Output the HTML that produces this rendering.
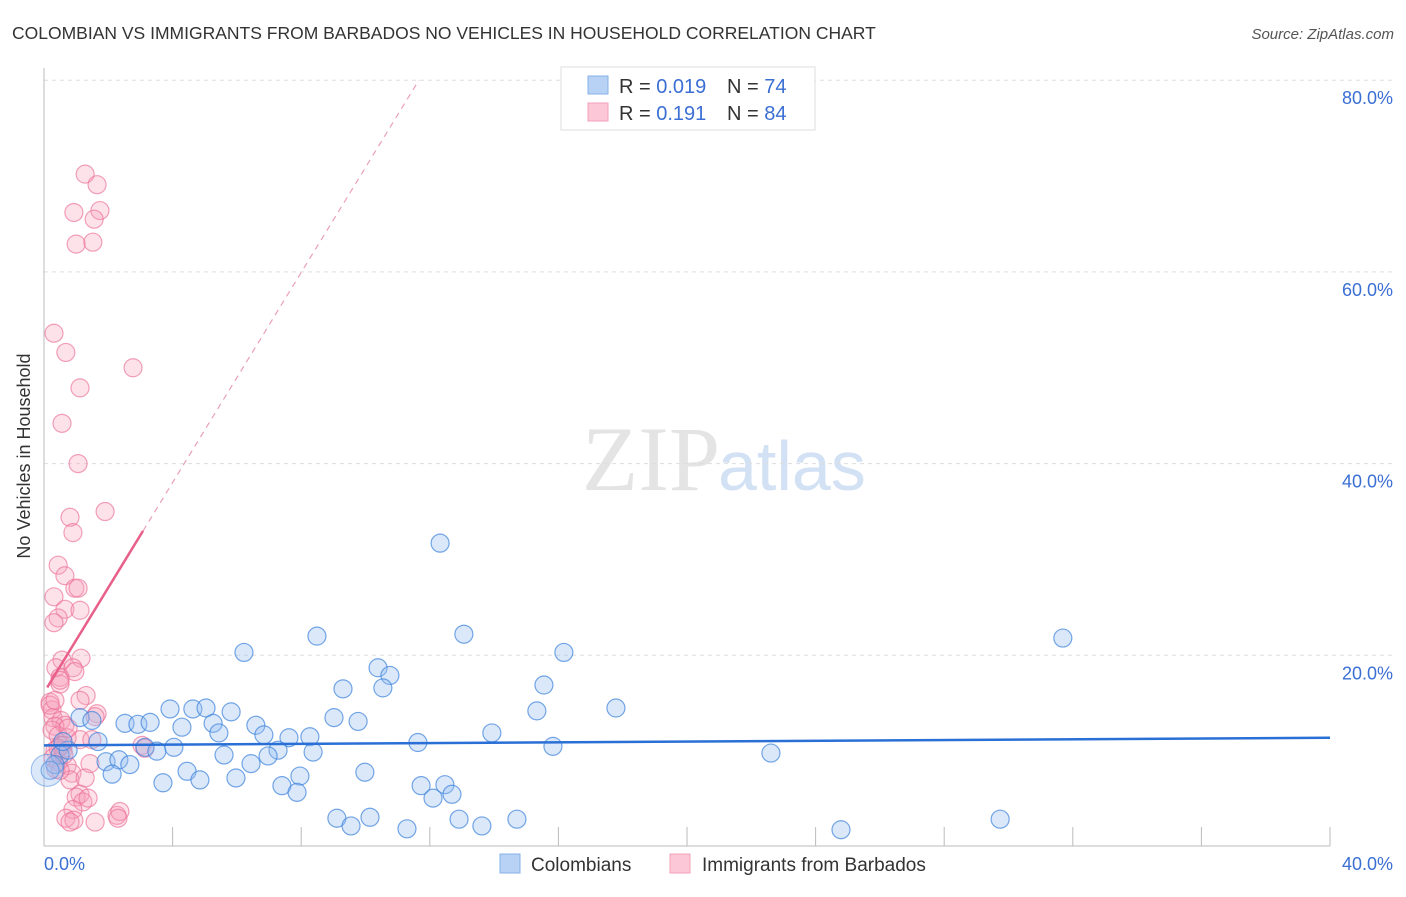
<!DOCTYPE html>
<html><head><meta charset="utf-8"><style>
body{margin:0;background:#fff;font-family:"Liberation Sans",sans-serif;}
svg text{font-family:"Liberation Sans",sans-serif;}
</style></head><body>
<svg id="chart" width="1406" height="892" xmlns="http://www.w3.org/2000/svg">
<text x="12" y="39" font-size="17.5" fill="#333">COLOMBIAN VS IMMIGRANTS FROM BARBADOS NO VEHICLES IN HOUSEHOLD CORRELATION CHART</text>
<text x="1394" y="39" font-size="15" fill="#555" font-style="italic" text-anchor="end">Source: ZipAtlas.com</text>
<text x="720" y="490" font-size="92" fill="#e4e4e4" text-anchor="end" font-family="Liberation Serif" style="font-family:'Liberation Serif',serif">ZIP</text>
<text x="718" y="490" font-size="70" fill="#d3e1f4">atlas</text>
<g id="grid"></g>
<g id="axes"></g>
<g id="pinkpts"></g>
<g id="bluepts"></g>
<g id="trends"></g>
<text x="30" y="456" font-size="18" fill="#333" text-anchor="middle" transform="rotate(-90 30 456)">No Vehicles in Household</text>
<g>
<rect x="561" y="67" width="254" height="63" fill="#fff" stroke="#ddd"/>
<rect x="588" y="76" width="20" height="18" fill="#b7d2f5" stroke="#86b0e8"/>
<rect x="588" y="103" width="20" height="18" fill="#fcc8d8" stroke="#f2a0b9"/>
<text x="619" y="93" font-size="20" fill="#333">R = <tspan fill="#3b6fd4">0.019</tspan></text>
<text x="727" y="93" font-size="20" fill="#333">N = <tspan fill="#3b6fd4"> 74</tspan></text>
<text x="619" y="120" font-size="20" fill="#333">R = <tspan fill="#3b6fd4"> 0.191</tspan></text>
<text x="727" y="120" font-size="20" fill="#333">N = <tspan fill="#3b6fd4">84</tspan></text>
</g>
<g>
<rect x="500" y="854" width="20" height="19" fill="#b7d2f5" stroke="#86b0e8"/>
<text x="531" y="871" font-size="19" fill="#333">Colombians</text>
<rect x="670" y="854" width="20" height="19" fill="#fcc8d8" stroke="#f2a0b9"/>
<text x="702" y="871" font-size="19" fill="#333">Immigrants from Barbados</text>
</g>
</svg>
<script>
const blueX=[12.32,31.69,8.49,13.06,6.22,16.17,10.39,10.76,9.30,10.54,15.55,17.79,15.33,3.92,4.63,5.04,5.82,9.02,9.77,13.93,2.52,2.92,3.30,4.29,5.26,6.59,5.44,6.84,7.62,8.27,7.28,8.37,11.63,15.83,22.61,1.68,3.14,3.51,4.04,5.60,1.93,2.33,2.67,6.44,6.97,2.12,4.45,5.97,3.70,4.85,7.96,9.98,7.40,7.87,11.73,12.47,12.69,12.10,9.11,10.14,12.91,14.71,9.55,11.29,13.62,24.79,29.74,1.12,1.49,0.50,0.75,0.34,0.19,0.59];
const blueY=[31.7,21.8,22.0,22.2,20.3,20.3,18.7,17.9,16.5,16.6,16.9,14.5,14.2,14.4,14.4,14.5,14.1,13.5,13.1,11.9,12.9,12.8,13.0,12.5,12.9,12.7,11.9,11.7,11.4,11.5,10.1,9.9,10.9,10.5,9.8,11.0,10.4,10.0,10.4,9.6,8.9,9.1,8.6,8.7,9.5,7.6,7.9,7.2,6.7,7.0,7.4,7.8,6.4,5.7,6.4,6.5,5.5,5.1,3.0,3.1,2.9,2.9,2.2,1.9,2.2,1.8,2.9,13.5,13.2,9.6,10.1,8.6,8.0,11.0];
const pinkX=[1.28,1.65,0.93,1.74,1.56,1.00,1.52,0.31,0.68,2.77,1.12,0.56,1.06,0.81,1.90,0.90,0.44,0.65,0.96,1.06,0.31,0.65,1.12,0.44,0.31,1.15,0.56,0.37,0.90,0.50,0.50,1.31,0.19,0.25,0.28,1.65,1.59,0.53,0.65,0.34,0.25,0.44,0.72,1.12,0.50,0.34,0.59,0.28,0.44,0.72,0.37,3.05,3.14,1.43,0.87,0.81,1.28,1.12,1.00,1.21,1.37,0.90,0.68,0.93,0.81,1.59,2.27,2.36,2.30,0.50,0.59,0.19,0.34,0.75,0.50,0.96,1.12,0.62,0.44,1.49];
const pinkY=[70.2,69.1,66.2,66.4,65.5,62.9,63.1,53.6,51.6,50.0,47.9,44.2,40.0,34.4,35.0,32.8,29.4,28.3,27.0,27.0,26.1,24.8,24.7,23.9,23.4,19.7,19.5,18.7,18.7,17.7,17.0,15.8,15.1,14.3,13.5,13.9,13.6,13.2,12.7,12.6,12.2,11.6,11.4,11.2,10.6,10.1,10.1,9.3,8.9,8.5,8.1,10.6,10.3,8.7,7.7,7.0,7.2,5.5,5.2,4.7,5.1,3.9,3.0,2.8,2.6,2.6,3.3,3.7,3.0,8.0,10.6,14.8,15.3,12.4,17.4,18.3,15.3,9.6,10.3,11.2];
const yTicks=[20,40,60,80];
const yTickLabels=["20.0%","40.0%","60.0%","80.0%"];
const xTickValues=[0,4,8,12,16,20,24,28,32,36,40];
const blueTrend=[10.6,11.4];
const pinkTrend=[16.1,5.48];
const NS="http://www.w3.org/2000/svg";
const X=v=>44+v*32.15, Y=v=>847-v*9.585;
function mk(parent,tag,attrs){const e=document.createElementNS(NS,tag);for(const k in attrs)e.setAttribute(k,attrs[k]);document.getElementById(parent).appendChild(e);return e;}
yTicks.forEach((t,i)=>{
 const l=mk('grid','line',{x1:44,x2:1395,y1:Y(t),y2:Y(t),stroke:'#ddd','stroke-dasharray':'4,4'});
 
 
 const tx=mk('grid','text',{x:1393,y:Y(t)+24,'font-size':18,fill:'#3b6fd4','text-anchor':'end'});
 tx.textContent=yTickLabels[i];
 
 
});
let a=mk('axes','line',{x1:44,x2:44,y1:68,y2:846,stroke:'#bbb'});


a=mk('axes','line',{x1:44,x2:1330,y1:846,y2:846,stroke:'#bbb'});


xTickValues.forEach(v=>{const t=mk('axes','line',{x1:X(v),x2:X(v),y1:827,y2:846,stroke:'#bbb'});
 
 });
let t=mk('axes','text',{x:44,y:870,'font-size':18,fill:'#3b6fd4'});t.textContent='0.0%';


t=mk('axes','text',{x:1393,y:870,'font-size':18,fill:'#3b6fd4','text-anchor':'end'});t.textContent='40.0%';


pinkX.forEach((v,i)=>{const c=mk('pinkpts','circle',{cx:X(v),cy:Y(pinkY[i]),r:9,fill:'rgba(247,160,185,0.3)',stroke:'rgba(235,110,150,0.65)','stroke-width':1.2});
 
 });
blueX.forEach((v,i)=>{const c=mk('bluepts','circle',{cx:X(v),cy:Y(blueY[i]),r:9,fill:'rgba(150,190,240,0.35)',stroke:'rgba(60,130,220,0.7)','stroke-width':1.2});
 
 });
let big=mk('bluepts','circle',{cx:X(0.1),cy:Y(8),r:16,fill:'rgba(150,190,240,0.35)',stroke:'rgba(60,130,220,0.5)'});


let bl=mk('trends','line',{x1:X(0),y1:Y(blueTrend[0]),x2:X(40),y2:Y(blueTrend[1]),stroke:'#2a6fd6','stroke-width':2.5});


const pf=x=>pinkTrend[0]+pinkTrend[1]*x;
let ps=mk('trends','line',{x1:X(0.1),y1:Y(pf(0.1)),x2:X(3.08),y2:Y(pf(3.08)),stroke:'#e8608a','stroke-width':2.5});


const xe=(80-pinkTrend[0])/pinkTrend[1];
let pd=mk('trends','line',{x1:X(3.08),y1:Y(pf(3.08)),x2:X(xe),y2:Y(80),stroke:'#eaa0b8','stroke-width':1.2,'stroke-dasharray':'6,5'});


</script>
</body></html>
